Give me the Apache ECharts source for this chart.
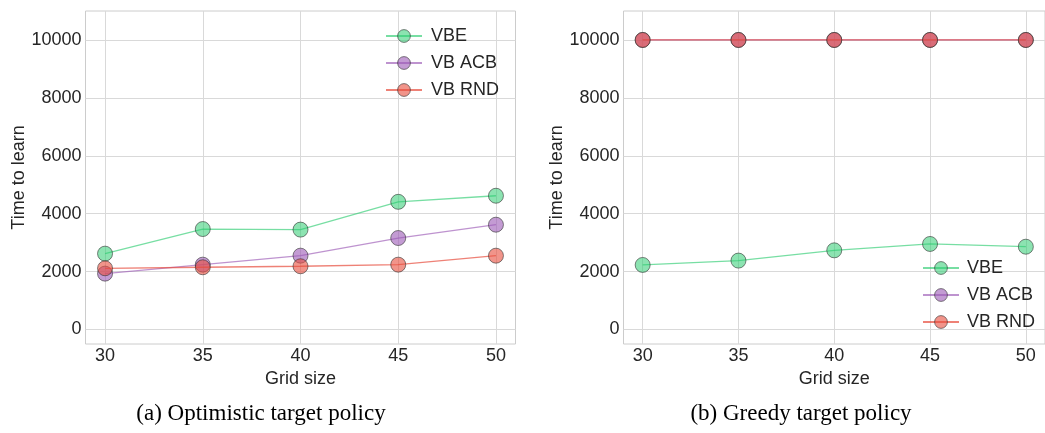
<!DOCTYPE html>
<html>
<head>
<meta charset="utf-8">
<script src="https://cdn.jsdelivr.net/npm/echarts@6/dist/echarts.min.js"></script>
<style>
html,body{margin:0;padding:0;background:#fff;}
#chart{width:1045px;height:433px;}
</style>
</head>
<body>
<div id="chart"></div>
<script>
// ---- data ----
const gridSizes = [30, 35, 40, 45, 50];
const yTicks = [0, 2000, 4000, 6000, 8000, 10000];
const seriesNames = ['VBE', 'VB ACB', 'VB RND'];
// (a) Optimistic target policy
const optVBE = [2620, 3470, 3450, 4410, 4620];
const optACB = [1930, 2240, 2550, 3160, 3620];
const optRND = [2115, 2150, 2185, 2240, 2550];
// (b) Greedy target policy
const grdVBE = [2230, 2380, 2735, 2955, 2860];
const grdACB = [10000, 10000, 10000, 10000, 10000];
const grdRND = [10000, 10000, 10000, 10000, 10000];
const captions = ['(a) Optimistic target policy', '(b) Greedy target policy'];

// ---- style ----
const FONT = 'Liberation Sans, Arial, sans-serif';
const TXT = '#262626';
const fills = ['rgba(46,204,113,0.55)', 'rgba(155,89,182,0.6)', 'rgba(231,76,60,0.6)'];
const lines = ['rgba(46,204,113,0.65)', 'rgba(155,89,182,0.65)', 'rgba(231,76,60,0.7)'];

function pairs(vals) { return gridSizes.map((g, i) => [g, vals[i]]); }

function mkSeries(name, vals, idx, axisIdx) {
  return {
    name: name, type: 'line', xAxisIndex: axisIdx, yAxisIndex: axisIdx,
    data: pairs(vals), symbol: 'circle', symbolSize: 15, clip: false,
    lineStyle: { color: lines[idx], width: 1.3 },
    itemStyle: { color: fills[idx], borderColor: 'rgba(50,50,50,0.6)', borderWidth: 1 },
    emphasis: { disabled: true }, animation: false, z: 2 + idx
  };
}

function xAxis(gridIndex) {
  return {
    type: 'value', gridIndex: gridIndex, min: 29, max: 51,
    name: 'Grid size', nameLocation: 'middle', nameGap: 21,
    nameTextStyle: { fontFamily: FONT, fontSize: 18, color: TXT },
    axisLine: { show: false }, axisTick: { show: false, customValues: gridSizes },
    axisLabel: { customValues: gridSizes, fontFamily: FONT, fontSize: 18, color: TXT, margin: 3,
      formatter: v => String(v) },
    splitLine: { show: true, lineStyle: { color: '#d9d9d9', width: 1 } }
  };
}
function yAxis(gridIndex) {
  return {
    type: 'value', gridIndex: gridIndex, min: -500, max: 11000,
    name: 'Time to learn', nameLocation: 'middle', nameGap: 55, nameRotate: 90,
    nameTextStyle: { fontFamily: FONT, fontSize: 18, color: TXT },
    axisLine: { show: false }, axisTick: { show: false, customValues: yTicks },
    axisLabel: { customValues: yTicks, fontFamily: FONT, fontSize: 18, color: TXT, margin: 4,
      formatter: v => String(v) },
    splitLine: { show: true, lineStyle: { color: '#d9d9d9', width: 1 } }
  };
}
function legend(left, top, pad) {
  return {
    left: left, top: top, orient: 'vertical', data: seriesNames,
    itemWidth: 36, itemHeight: 16, itemGap: 9, selectedMode: false,
    itemStyle: { borderWidth: 1, borderColor: 'rgba(50,50,50,0.6)' },
    textStyle: { fontFamily: FONT, fontSize: 18, color: TXT, padding: [0, 0, 0, pad] }
  };
}

const chart = echarts.init(document.getElementById('chart'), null, { renderer: 'canvas' });
chart.setOption({
  backgroundColor: '#fff',
  animation: false,
  grid: [
    { left: 85.5, top: 11, width: 430, height: 333, show: true, borderColor: '#cccccc', borderWidth: 1, containLabel: false },
    { left: 623.5, top: 11, width: 428, height: 333, show: true, borderColor: '#cccccc', borderWidth: 1, containLabel: false }
  ],
  xAxis: [xAxis(0), xAxis(1)],
  yAxis: [yAxis(0), yAxis(1)],
  legend: [legend(380, 22, 4), legend(917, 254, 3)],
  series: [
    mkSeries(seriesNames[0], optVBE, 0, 0),
    mkSeries(seriesNames[1], optACB, 1, 0),
    mkSeries(seriesNames[2], optRND, 2, 0),
    mkSeries(seriesNames[0], grdVBE, 0, 1),
    mkSeries(seriesNames[1], grdACB, 1, 1),
    mkSeries(seriesNames[2], grdRND, 2, 1)
  ],
  graphic: [
    { type: 'text', x: 261, y: 414, style: { text: captions[0], fontFamily: 'Liberation Serif, Times New Roman, serif', fontSize: 23, fill: '#000', align: 'center', verticalAlign: 'middle' } },
    { type: 'text', x: 801, y: 414, style: { text: captions[1], fontFamily: 'Liberation Serif, Times New Roman, serif', fontSize: 23, fill: '#000', align: 'center', verticalAlign: 'middle' } }
  ]
});
</script>
</body>
</html>
